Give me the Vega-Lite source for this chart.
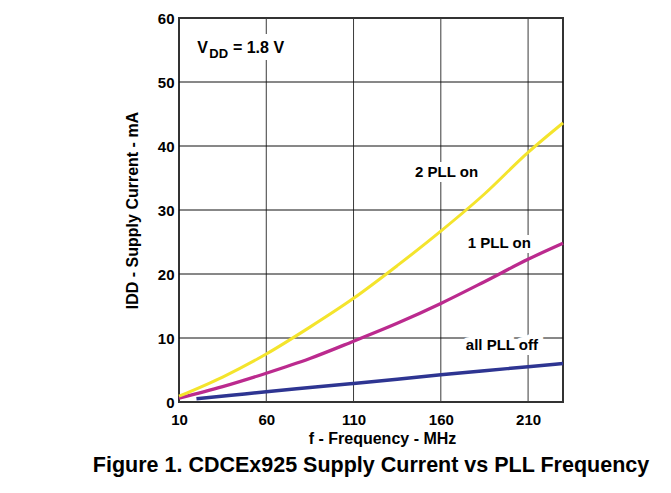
{
  "$schema": "https://vega.github.io/schema/vega-lite/v6.json",
  "width": 384,
  "height": 384,
  "autosize": {"type": "none"},
  "padding": {"left": 179, "top": 18, "right": 108, "bottom": 91},
  "background": "white",
  "title": {
    "text": "Figure 1. CDCEx925 Supply Current vs PLL Frequency",
    "orient": "bottom",
    "anchor": "middle",
    "font": "Liberation Sans",
    "fontSize": 21.5,
    "fontWeight": "bold",
    "color": "black",
    "offset": 9
  },
  "config": {
    "view": {"stroke": "#333333", "strokeWidth": 2},
    "axis": {
      "domain": false,
      "ticks": false,
      "grid": false,
      "labelFont": "Liberation Sans",
      "labelFontWeight": "bold",
      "labelFontSize": 15,
      "labelColor": "black",
      "labelFlush": false,
      "labelOverlap": false,
      "titleFont": "Liberation Sans",
      "titleFontWeight": "bold",
      "titleFontSize": 16,
      "titleColor": "black"
    }
  },
  "datasets": {
    "curves": [
      {"series": "all PLL off", "f": 20, "i": 0.5},
      {"series": "all PLL off", "f": 40, "i": 1.05},
      {"series": "all PLL off", "f": 60, "i": 1.6},
      {"series": "all PLL off", "f": 85, "i": 2.25},
      {"series": "all PLL off", "f": 110, "i": 2.9},
      {"series": "all PLL off", "f": 135, "i": 3.55},
      {"series": "all PLL off", "f": 160, "i": 4.25},
      {"series": "all PLL off", "f": 185, "i": 4.9},
      {"series": "all PLL off", "f": 210, "i": 5.5},
      {"series": "all PLL off", "f": 230, "i": 6.0},
      {"series": "1 PLL on", "f": 10, "i": 0.6},
      {"series": "1 PLL on", "f": 35, "i": 2.4},
      {"series": "1 PLL on", "f": 60, "i": 4.5},
      {"series": "1 PLL on", "f": 85, "i": 6.8},
      {"series": "1 PLL on", "f": 110, "i": 9.5},
      {"series": "1 PLL on", "f": 135, "i": 12.3},
      {"series": "1 PLL on", "f": 160, "i": 15.4},
      {"series": "1 PLL on", "f": 185, "i": 18.8},
      {"series": "1 PLL on", "f": 210, "i": 22.3},
      {"series": "1 PLL on", "f": 230, "i": 24.8},
      {"series": "2 PLL on", "f": 10, "i": 0.9},
      {"series": "2 PLL on", "f": 35, "i": 3.9},
      {"series": "2 PLL on", "f": 60, "i": 7.5},
      {"series": "2 PLL on", "f": 85, "i": 11.7},
      {"series": "2 PLL on", "f": 110, "i": 16.2},
      {"series": "2 PLL on", "f": 135, "i": 21.3},
      {"series": "2 PLL on", "f": 160, "i": 26.7},
      {"series": "2 PLL on", "f": 185, "i": 32.5},
      {"series": "2 PLL on", "f": 210, "i": 39.0},
      {"series": "2 PLL on", "f": 230, "i": 43.6}
    ],
    "gridx": [{"f": 60}, {"f": 110}, {"f": 160}, {"f": 210}],
    "gridy": [{"i": 10}, {"i": 20}, {"i": 30}, {"i": 40}, {"i": 50}],
    "labels": [
      {"text": "2 PLL on", "f": 163.3, "i": 36.0},
      {"text": "1 PLL on", "f": 193.5, "i": 24.9},
      {"text": "all PLL off", "f": 195, "i": 8.9}
    ],
    "vdd": [
      {"text": "V", "f": 20.5, "i": 54.6},
      {"text": "= 1.8 V", "f": 40.9, "i": 54.6}
    ],
    "vddsub": [
      {"text": "DD", "f": 27.4, "i": 53.7}
    ]
  },
  "layer": [
    {
      "data": {"name": "gridx"},
      "mark": {"type": "rule", "color": "#3a3a3a", "strokeWidth": 1},
      "encoding": {
        "x": {
          "field": "f",
          "type": "quantitative",
          "scale": {"domain": [10, 230], "nice": false, "zero": false},
          "axis": {
            "values": [10, 60, 110, 160, 210],
            "title": "f - Frequency - MHz",
            "labelPadding": 10,
            "titlePadding": 3,
            "titleX": 203
          }
        }
      }
    },
    {
      "data": {"name": "gridy"},
      "mark": {"type": "rule", "color": "#111111", "strokeWidth": 1},
      "encoding": {
        "y": {
          "field": "i",
          "type": "quantitative",
          "scale": {"domain": [0, 60], "nice": false},
          "axis": {
            "values": [0, 10, 20, 30, 40, 50, 60],
            "title": "IDD - Supply Current - mA",
            "labelPadding": 5,
            "titlePadding": 17
          }
        }
      }
    },
    {
      "data": {"name": "labels"},
      "mark": {"type": "text", "font": "Liberation Sans", "fontWeight": "bold", "fontSize": 15, "align": "center", "baseline": "middle", "fill": "white", "stroke": "white", "strokeWidth": 10},
      "encoding": {
        "x": {"field": "f", "type": "quantitative"},
        "y": {"field": "i", "type": "quantitative"},
        "text": {"field": "text"}
      }
    },
    {
      "data": {"name": "vdd"},
      "mark": {"type": "text", "font": "Liberation Sans", "fontWeight": "bold", "fontSize": 16, "align": "left", "baseline": "alphabetic", "fill": "white", "stroke": "white", "strokeWidth": 14},
      "encoding": {
        "x": {"field": "f", "type": "quantitative"},
        "y": {"field": "i", "type": "quantitative"},
        "text": {"field": "text"}
      }
    },
    {
      "data": {"name": "curves"},
      "mark": {"type": "line", "interpolate": "monotone", "strokeCap": "butt"},
      "encoding": {
        "x": {"field": "f", "type": "quantitative"},
        "y": {"field": "i", "type": "quantitative"},
        "color": {
          "field": "series",
          "type": "nominal",
          "scale": {"domain": ["all PLL off", "1 PLL on", "2 PLL on"], "range": ["#2e3592", "#bb2a8e", "#f4e42c"]},
          "legend": null
        },
        "strokeWidth": {
          "field": "series",
          "type": "nominal",
          "scale": {"domain": ["all PLL off", "1 PLL on", "2 PLL on"], "range": [3.5, 3, 2.5]},
          "legend": null
        }
      }
    },
    {
      "data": {"name": "labels"},
      "mark": {"type": "text", "font": "Liberation Sans", "fontWeight": "bold", "fontSize": 15, "align": "center", "baseline": "middle", "color": "black"},
      "encoding": {
        "x": {"field": "f", "type": "quantitative"},
        "y": {"field": "i", "type": "quantitative"},
        "text": {"field": "text"}
      }
    },
    {
      "data": {"name": "vdd"},
      "mark": {"type": "text", "font": "Liberation Sans", "fontWeight": "bold", "fontSize": 16, "align": "left", "baseline": "alphabetic", "color": "black"},
      "encoding": {
        "x": {"field": "f", "type": "quantitative"},
        "y": {"field": "i", "type": "quantitative"},
        "text": {"field": "text"}
      }
    },
    {
      "data": {"name": "vddsub"},
      "mark": {"type": "text", "font": "Liberation Sans", "fontWeight": "bold", "fontSize": 13, "align": "left", "baseline": "alphabetic", "color": "black"},
      "encoding": {
        "x": {"field": "f", "type": "quantitative"},
        "y": {"field": "i", "type": "quantitative"},
        "text": {"field": "text"}
      }
    }
  ]
}
